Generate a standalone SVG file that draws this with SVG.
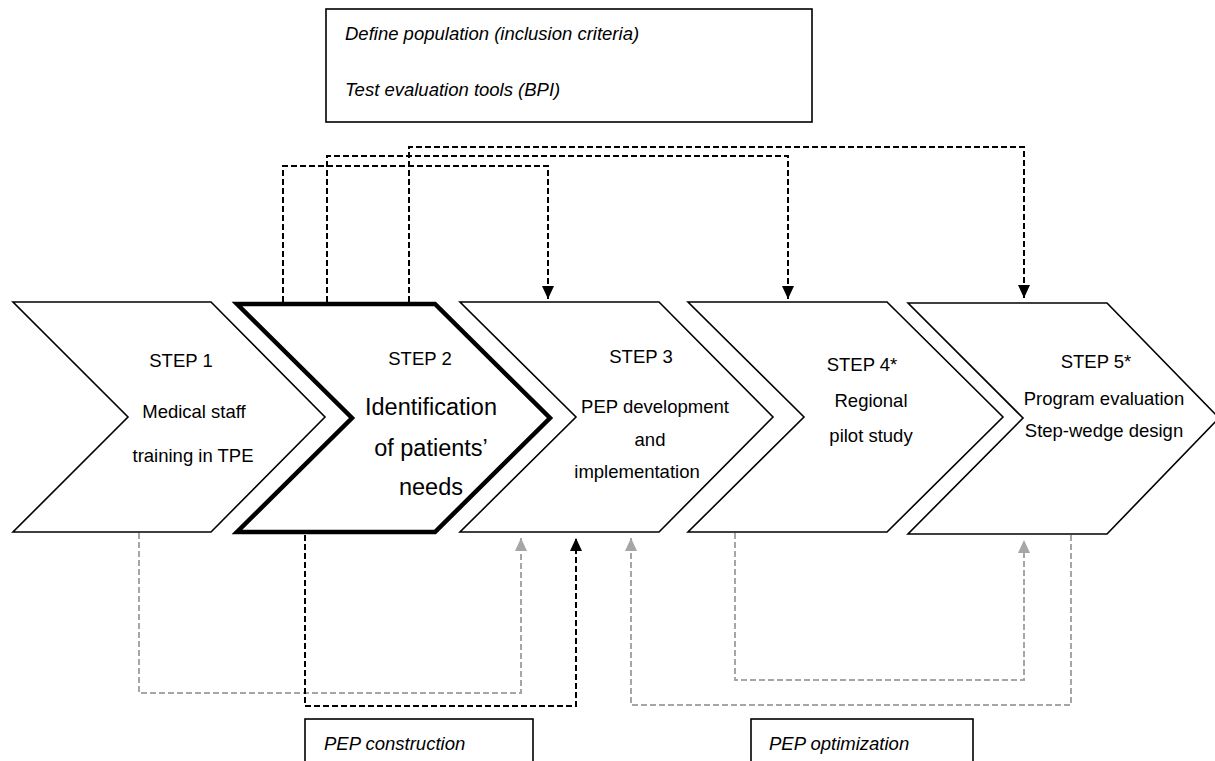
<svg xmlns="http://www.w3.org/2000/svg" width="1215" height="761" viewBox="0 0 1215 761">
<style>
  .chev { fill: #ffffff; stroke: #000000; stroke-width: 1.6; stroke-linejoin: miter; }
  .chev-bold { fill: #ffffff; stroke: #000000; stroke-width: 4.5; stroke-linejoin: miter; }
  .box { fill: #ffffff; stroke: #000000; stroke-width: 1.6; }
  .t { font-family: "Liberation Sans", Arial, sans-serif; font-size: 18.5px; fill: #000000; text-anchor: middle; }
  .big { font-size: 23.5px; }
  .it { font-family: "Liberation Sans", Arial, sans-serif; font-size: 18.5px; font-style: italic; fill: #000000; }
  .dk { fill: none; stroke: #000000; stroke-width: 2; stroke-dasharray: 6 3; }
  .gr { fill: none; stroke: #a6a6a6; stroke-width: 2; stroke-dasharray: 6 3; }
</style>
<defs>
  <marker id="ab" viewBox="0 0 13 12" refX="13" refY="6" markerWidth="13" markerHeight="12" markerUnits="userSpaceOnUse" orient="auto">
    <path d="M0,0 L13,6 L0,12 z" fill="#000000"/>
  </marker>
  <marker id="ag" viewBox="0 0 13 12" refX="13" refY="6" markerWidth="13" markerHeight="12" markerUnits="userSpaceOnUse" orient="auto">
    <path d="M0,0 L13,6 L0,12 z" fill="#a6a6a6"/>
  </marker>
</defs>

<g id="top-box">
  <rect class="box" x="326" y="9" width="486" height="113"/>
  <text class="it" x="345" y="40">Define population (inclusion criteria)</text>
  <text class="it" x="345" y="96">Test evaluation tools (BPI)</text>
</g>

<g id="step1">
  <polygon class="chev" points="13,302 211,302 325,417 211,532 13,532 128,417"/>
  <text class="t" x="181" y="367">STEP 1</text>
  <text class="t" x="194" y="418">Medical staff</text>
  <text class="t" x="193" y="462">training in TPE</text>
</g>

<g id="step2">
  <polygon class="chev-bold" points="237,304 435,304 550,418 435,532 237,532 352,418"/>
  <text class="t" x="420" y="365">STEP 2</text>
  <text class="t big" x="431" y="415">Identification</text>
  <text class="t big" x="431" y="456">of patients’</text>
  <text class="t big" x="431" y="495">needs</text>
</g>

<g id="step3">
  <polygon class="chev" points="460,302 659,302 773,417 659,532 460,532 576,417"/>
  <text class="t" x="641" y="363">STEP 3</text>
  <text class="t" x="655" y="413">PEP development</text>
  <text class="t" x="650" y="446">and</text>
  <text class="t" x="637" y="478">implementation</text>
</g>

<g id="step4">
  <polygon class="chev" points="688,302 887,302 1003,417 887,532 688,532 804,417"/>
  <text class="t" x="862" y="371">STEP 4*</text>
  <text class="t" x="871" y="407">Regional</text>
  <text class="t" x="871" y="442">pilot study</text>
</g>

<g id="step5">
  <polygon class="chev" points="908,303 1107,303 1219,418 1107,534 908,534 1023,418"/>
  <text class="t" x="1096" y="368">STEP 5*</text>
  <text class="t" x="1104" y="405">Program evaluation</text>
  <text class="t" x="1104" y="437">Step-wedge design</text>
</g>

<g id="box-construction">
  <rect class="box" x="305" y="719" width="228" height="60"/>
  <text class="it" x="324" y="750">PEP construction</text>
</g>

<g id="box-optimization">
  <rect class="box" x="751" y="719" width="222" height="60"/>
  <text class="it" x="769" y="750">PEP optimization</text>
</g>

<g id="connectors">
  <path class="dk" d="M283,302 V166 H548 V299" marker-end="url(#ab)"/>
  <path class="dk" d="M327,302 V156 H788 V299" marker-end="url(#ab)"/>
  <path class="dk" d="M409,302 V147 H1024 V298" marker-end="url(#ab)"/>
  <path class="gr" d="M139,533 V693 H521 V538" marker-end="url(#ag)"/>
  <path class="dk" d="M305,535 V706 H576 V538" marker-end="url(#ab)"/>
  <path class="gr" d="M1071,535 V705 H631 V538" marker-end="url(#ag)"/>
  <path class="gr" d="M735,533 V680 H1024 V540" marker-end="url(#ag)"/>
</g>
</svg>
